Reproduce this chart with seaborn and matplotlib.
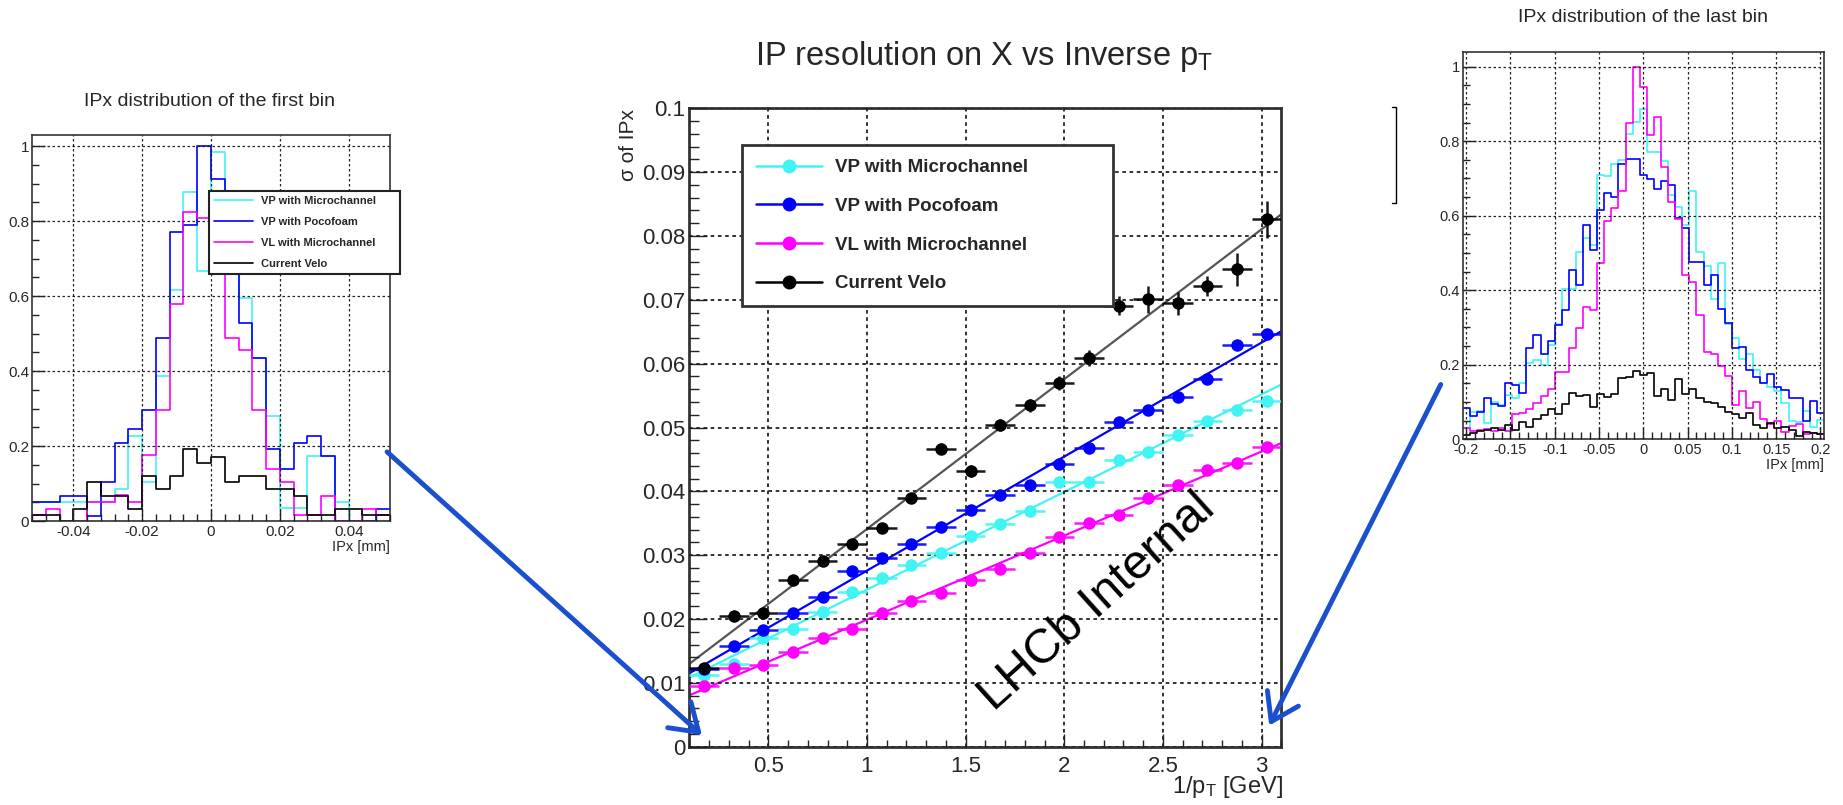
import numpy as np
import pandas as pd
import matplotlib
matplotlib.use('Agg')
import matplotlib.pyplot as plt
import seaborn as sns
from matplotlib.lines import Line2D
from matplotlib.patches import FancyArrowPatch
from matplotlib.ticker import MultipleLocator, FuncFormatter

# ---------------- data ----------------
series_names = ["VP with Microchannel", "VP with Pocofoam", "VL with Microchannel", "Current Velo"]
series_colors = ["#40f4f4", "#0000ff", "#ff00ff", "#000000"]

# centre plot: sigma(IPx) vs 1/pT
inv_pt = [0.175, 0.325, 0.475, 0.625, 0.775, 0.925, 1.075, 1.225, 1.375, 1.525,
          1.675, 1.825, 1.975, 2.125, 2.275, 2.425, 2.575, 2.725, 2.875, 3.025]
sig_vp_micro = [0.0112, 0.0130, 0.0170, 0.0184, 0.0211, 0.0243, 0.0264, 0.0284, 0.0303, 0.0330,
                0.0349, 0.0369, 0.0415, 0.0415, 0.0449, 0.0462, 0.0488, 0.0510, 0.0528, 0.0541]
sig_vp_poco = [0.0122, 0.0158, 0.0183, 0.0210, 0.0235, 0.0275, 0.0295, 0.0317, 0.0344, 0.0371,
               0.0394, 0.0410, 0.0443, 0.0468, 0.0509, 0.0528, 0.0547, 0.0576, 0.0629, 0.0646]
sig_vl_micro = [0.0095, 0.0123, 0.0128, 0.0149, 0.0170, 0.0184, 0.0210, 0.0229, 0.0240, 0.0261,
                0.0278, 0.0304, 0.0329, 0.0350, 0.0363, 0.0390, 0.0410, 0.0433, 0.0444, 0.0470]
sig_velo = [0.0123, 0.0205, 0.0210, 0.0261, 0.0291, 0.0317, 0.0342, 0.0390, 0.0467, 0.0432,
            0.0504, 0.0535, 0.0569, 0.0609, 0.0691, 0.0701, 0.0695, 0.0722, 0.0748, 0.0826]
err_velo = [0.0006, 0.0006, 0.0006, 0.0006, 0.0006, 0.0007, 0.0008, 0.0008, 0.0009, 0.0009,
            0.0010, 0.0010, 0.0011, 0.0013, 0.0015, 0.0021, 0.0018, 0.0016, 0.0026, 0.0029]
err_other = 0.0004
bin_half_width = 0.075

# left histogram: IPx distribution of the first bin (26 bins, -0.052..0.052)
left_edges = np.round(np.linspace(-0.052, 0.052, 27), 4)
first_vp_micro = [0.052, 0.052, 0.052, 0.052, 0.052, 0.052, 0.085, 0.228, 0.104, 0.387, 0.616, 0.879, 0.668,
                  0.984, 0.73, 0.596, 0.436, 0.279, 0.034, 0.034, 0.174, 0.174, 0.052, 0.0, 0.0, 0.0]
first_vp_poco = [0.052, 0.052, 0.067, 0.067, 0.013, 0.104, 0.208, 0.246, 0.297, 0.489, 0.770, 0.790, 1.0,
                 0.912, 0.70, 0.529, 0.436, 0.192, 0.138, 0.208, 0.228, 0.174, 0.0, 0.0, 0.0, 0.033]
first_vl_micro = [0.015, 0.033, 0.0, 0.0, 0.052, 0.052, 0.069, 0.052, 0.176, 0.297, 0.579, 0.825, 0.808,
                  0.72, 0.489, 0.455, 0.297, 0.138, 0.104, 0.015, 0.015, 0.067, 0.0, 0.0, 0.033, 0.015]
first_velo = [0.015, 0.015, 0.0, 0.033, 0.104, 0.067, 0.067, 0.033, 0.120, 0.085, 0.120, 0.192, 0.154,
              0.172, 0.104, 0.120, 0.120, 0.085, 0.085, 0.067, 0.015, 0.015, 0.033, 0.033, 0.015, 0.015]

# right histogram: IPx distribution of the last bin (51 bins, -0.204..0.204)
right_edges = np.round(np.linspace(-0.204, 0.204, 52), 4)
last_vp_micro = [0.031, 0.074, 0.075, 0.043, 0.100, 0.092, 0.118, 0.112, 0.152, 0.205, 0.212, 0.200, 0.252,
                 0.309, 0.402, 0.402, 0.502, 0.541, 0.522, 0.708, 0.706, 0.740, 0.750, 0.820, 0.851, 0.885,
                 0.771, 0.771, 0.746, 0.655, 0.622, 0.575, 0.667, 0.502, 0.466, 0.376, 0.474, 0.309, 0.271,
                 0.215, 0.229, 0.185, 0.152, 0.140, 0.130, 0.098, 0.048, 0.046, 0.077, 0.034, 0.053]
last_vp_poco = [0.083, 0.063, 0.072, 0.110, 0.095, 0.090, 0.152, 0.145, 0.124, 0.245, 0.281, 0.230, 0.264,
                0.306, 0.346, 0.455, 0.414, 0.575, 0.508, 0.614, 0.661, 0.649, 0.739, 0.751, 0.751, 0.709,
                0.698, 0.671, 0.692, 0.682, 0.594, 0.566, 0.476, 0.476, 0.414, 0.440, 0.350, 0.312, 0.245,
                0.248, 0.185, 0.168, 0.152, 0.175, 0.141, 0.131, 0.110, 0.111, 0.050, 0.102, 0.071]
last_vl_micro = [0.030, 0.021, 0.025, 0.027, 0.021, 0.030, 0.022, 0.067, 0.071, 0.082, 0.098, 0.115, 0.134,
                 0.180, 0.180, 0.246, 0.298, 0.356, 0.346, 0.473, 0.585, 0.621, 0.665, 0.850, 1.0, 0.946,
                 0.816, 0.865, 0.731, 0.638, 0.591, 0.440, 0.422, 0.333, 0.235, 0.228, 0.197, 0.170, 0.091,
                 0.130, 0.085, 0.100, 0.055, 0.040, 0.050, 0.020, 0.036, 0.040, 0.015, 0.018, 0.013]
last_velo = [0.012, 0.018, 0.023, 0.025, 0.030, 0.025, 0.038, 0.025, 0.046, 0.034, 0.054, 0.064, 0.081,
             0.067, 0.095, 0.125, 0.116, 0.119, 0.086, 0.121, 0.113, 0.121, 0.164, 0.168, 0.182, 0.173,
             0.179, 0.117, 0.134, 0.106, 0.162, 0.121, 0.134, 0.110, 0.101, 0.097, 0.088, 0.072, 0.068,
             0.058, 0.070, 0.038, 0.031, 0.043, 0.030, 0.034, 0.025, 0.009, 0.020, 0.016, 0.014]

# ---------------- style ----------------
sns.set_style("ticks")
plt.rcParams['font.family'] = ['Liberation Sans', 'DejaVu Sans']
plt.rcParams['mathtext.default'] = 'regular'
plt.rcParams['axes.unicode_minus'] = False

W, H = 1843, 805
fig = plt.figure(figsize=(W / 100, H / 100), dpi=100)


def fx(px):
    return px / W


def fy(py):
    return 1 - py / H


def fmt(v, p):
    if abs(v) < 1e-9:
        return "0"
    return f"{round(v, 6):g}"


def style_ax(ax, xmaj, xmin, ymaj, ymin, lsize, padx, pady, xlen, ylen, spine_lw, grid_lw):
    ax.xaxis.set_major_locator(MultipleLocator(xmaj))
    ax.xaxis.set_minor_locator(MultipleLocator(xmin))
    ax.yaxis.set_major_locator(MultipleLocator(ymaj))
    ax.yaxis.set_minor_locator(MultipleLocator(ymin))
    ax.xaxis.set_major_formatter(FuncFormatter(fmt))
    ax.yaxis.set_major_formatter(FuncFormatter(fmt))
    ax.tick_params(which='both', direction='in', top=False, right=False, color='#222', width=1.0)
    ax.tick_params(which='major', labelsize=lsize)
    ax.tick_params(axis='x', which='major', length=xlen[0], pad=padx)
    ax.tick_params(axis='x', which='minor', length=xlen[1], pad=padx)
    ax.tick_params(axis='y', which='major', length=ylen[0], pad=pady)
    ax.tick_params(axis='y', which='minor', length=ylen[1], pad=pady)
    ax.grid(True, which='major', linestyle=(0, (2, 2)), color='#222', linewidth=grid_lw)
    ax.set_axisbelow(False)
    for s in ax.spines.values():
        s.set_linewidth(spine_lw)
        s.set_color('#333')
    ax.set_xlabel('')
    ax.set_ylabel('')


def draw_hist(ax, edges, values_list):
    centers = (edges[:-1] + edges[1:]) / 2
    for vals, col in zip(values_list, series_colors):
        df = pd.DataFrame({'ipx': centers, 'w': vals})
        sns.histplot(data=df, x='ipx', weights='w', bins=list(edges), element='step', fill=False,
                     color=col, linewidth=1.2, ax=ax)


# ---------------- left histogram ----------------
axL = fig.add_axes([fx(32), fy(521), (390 - 32) / W, (521 - 135) / H])
draw_hist(axL, left_edges, [first_vp_micro, first_vp_poco, first_vl_micro, first_velo])
axL.set_xlim(-0.052, 0.052)
axL.set_ylim(0, 1.03)
style_ax(axL, 0.02, 0.004, 0.2, 0.05, 11, 3, 2, (9, 5), (9, 5), 1.2, 0.9)
hL = [Line2D([0], [0], color=c, lw=1.2) for c in series_colors]
legL = axL.legend(handles=hL, labels=series_names, loc='upper left',
                  bbox_to_anchor=(0.4944, 0.3, 0.5336, 0.5556), mode='expand', borderaxespad=0,
                  frameon=True, fancybox=False, prop={'weight': 'bold', 'size': 8},
                  handlelength=3.5, handletextpad=0.75, labelspacing=1.0, borderpad=0.46,
                  framealpha=1, edgecolor='#222')
legL.get_frame().set_linewidth(1.5)

# ---------------- centre plot ----------------
cL, cR, cT, cB = 689.4, 1281.3, 108.3, 746.7
axC = fig.add_axes([fx(cL), fy(cB), (cR - cL) / W, (cB - cT) / H])
axC.set_xlim(0.1, 3.1)
axC.set_ylim(0, 0.1)
center_series = [sig_vp_micro, sig_vp_poco, sig_vl_micro, sig_velo]
center_errs = [err_other, err_other, err_other, err_velo]
for vals, col in zip(center_series, series_colors):
    lc = '#555555' if col == '#000000' else col
    sns.regplot(x=np.array(inv_pt), y=np.array(vals), ax=axC, scatter=False, ci=None, truncate=False,
                color=lc, line_kws={'lw': 1.6, 'zorder': 2})
for vals, errs, col in zip(center_series, center_errs, series_colors):
    axC.errorbar(inv_pt, vals, xerr=bin_half_width, yerr=errs, fmt='none', ecolor=col,
                 elinewidth=1.8, capsize=0, zorder=3, alpha=0.9)
    sns.scatterplot(x=np.array(inv_pt), y=np.array(vals), color=col, s=81, edgecolor=col,
                    linewidth=0, ax=axC, zorder=4)
axC.set_xlim(0.1, 3.1)
axC.set_ylim(0, 0.1)
style_ax(axC, 0.5, 0.1, 0.01, 0.002, 16, 7, 3, (9.5, 5), (13, 7), 2.0, 1.3)
hC = [Line2D([0], [0], color=c, lw=1.8, marker='o', markersize=9) for c in series_colors]
legC = axC.legend(handles=hC, labels=series_names, loc='upper left',
                  bbox_to_anchor=(0.0889, 0.3, 0.6267, 0.6425), mode='expand', borderaxespad=0,
                  frameon=True, fancybox=False, prop={'weight': 'bold', 'size': 13.5},
                  handlelength=3.5, handletextpad=0.7, labelspacing=1.15, borderpad=0.75,
                  framealpha=1, edgecolor='#333')
legC.get_frame().set_linewidth(2)
axC.text(0.689, 0.226, 'LHCb Internal', transform=axC.transAxes, rotation=42,
         rotation_mode='anchor', ha='center', va='center', fontsize=35, color='black')

# ---------------- right histogram ----------------
axR = fig.add_axes([fx(1462.6), fy(439.3), (1824 - 1462.6) / W, (439.3 - 51.7) / H])
draw_hist(axR, right_edges, [last_vp_micro, last_vp_poco, last_vl_micro, last_velo])
axR.set_xlim(-0.204, 0.204)
axR.set_ylim(0, 1.04)
style_ax(axR, 0.05, 0.01, 0.2, 0.05, 10.5, 3, 2, (9, 5), (9, 5), 1.2, 0.9)

# ---------------- texts ----------------
fig.text(fx(210), fy(101.7), 'IPx distribution of the first bin', ha='center', va='center', fontsize=14)
fig.text(fx(1643), fy(18), 'IPx distribution of the last bin', ha='center', va='center', fontsize=14)
fig.text(fx(984), fy(65), 'IP resolution on X vs Inverse p$_{T}$', ha='center', va='baseline', fontsize=23.5)
fig.text(fx(390), fy(547), 'IPx [mm]', ha='right', va='center', fontsize=10.5)
fig.text(fx(1824), fy(465), 'IPx [mm]', ha='right', va='center', fontsize=10.5)
fig.text(fx(1283), fy(787), '1/p$_{T}$ [GeV]', ha='right', va='center', fontsize=17)
fig.text(fx(629), fy(109), 'σ of IPx', rotation=90, ha='center', va='top', fontsize=15)

# ---------------- arrows and bracket ----------------
for (x0, y0, x1, y1) in [(385, 450, 704, 737), (1442, 382, 1268, 728)]:
    fig.add_artist(FancyArrowPatch((fx(x0), fy(y0)), (fx(x1), fy(y1)), transform=fig.transFigure,
                                   arrowstyle='->,head_length=0.75,head_width=0.5', mutation_scale=25,
                                   lw=3.5, color='#1a4fd0', zorder=10))
fig.add_artist(Line2D([fx(1392), fx(1396), fx(1396), fx(1392)], [fy(107), fy(107), fy(203), fy(203)],
                      transform=fig.transFigure, color='black', lw=1))

fig.savefig('out.png', dpi=100)
